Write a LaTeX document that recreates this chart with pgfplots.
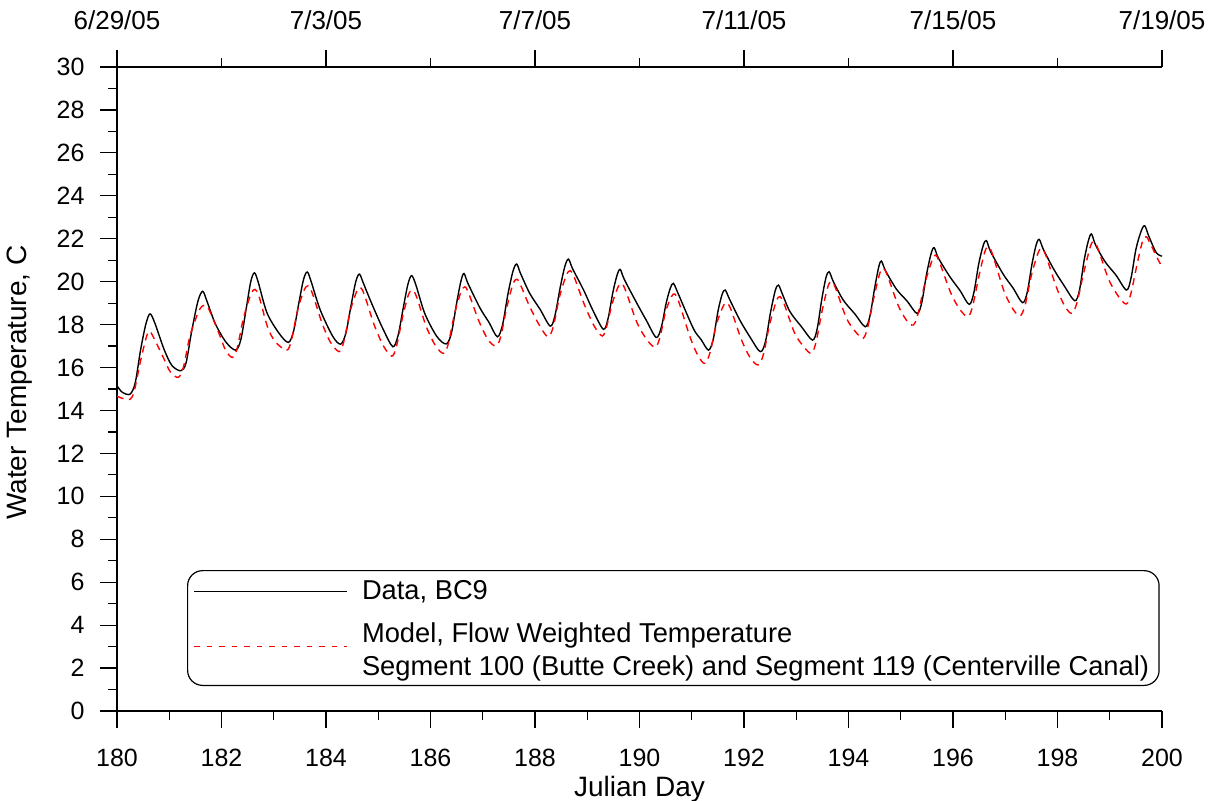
\documentclass[border=0pt]{standalone}
\usepackage{fontspec}
\setmainfont{Liberation Sans}
\usepackage{pgfplots}
\pgfplotsset{compat=1.18}
\begin{document}
\begin{tikzpicture}
\path[use as bounding box] (-58.5pt,-45pt) rectangle (550.5pt,355.5pt);
\begin{axis}[
  name=main, at={(0pt,0pt)}, anchor=south west,
  width=522.5pt, height=322pt, scale only axis,
  xmin=180, xmax=200, ymin=0, ymax=30,
  axis x line*=bottom, axis y line*=left,
  axis line style={-, line width=0.6pt},
  xtick={180,182,...,200}, minor xtick={181,183,...,199},
  ytick={0,2,...,30}, minor ytick={1,3,...,29},
  tick align=outside,
  major tick length=8.25pt, minor tick length=4.25pt,
  every tick/.style={black, line width=0.6pt},
  tick label style={font=\fontsize{12.5}{15}\selectfont},
  xticklabel style={yshift=-7pt},
  yticklabel style={xshift=-4.5pt},
  /pgf/number format/assume math mode=true,
  /pgf/number format/1000 sep={},
  xlabel={Julian Day},
  ylabel={Water Temperature, C},
  label style={font=\fontsize{14}{17}\selectfont},
  xlabel style={at={(axis description cs:0.5,0)}, anchor=center, yshift=-39pt},
  ylabel style={at={(axis description cs:-0.0935,0.51)}, anchor=center, rotate=0},
  legend style={at={(axis description cs:0.067,0.0388)}, anchor=south west,
    draw=black, line width=0.6pt, rounded corners=7.5pt,
    font=\fontsize{13.65}{16.5}\selectfont,
    inner xsep=3pt, inner ysep=3pt, row sep=4.5pt,
    cells={anchor=west},
    /tikz/every odd column/.append style={column sep=5pt}},
  legend image code/.code={\draw[#1] (0pt,0pt) -- (76.5pt,0pt);},
]
\addplot[black, line width=0.7pt, smooth, tension=0.5] coordinates {
(180.00,15.15) (180.10,14.85) (180.25,14.76) (180.35,15.3) (180.45,16.8) (180.55,18.0) (180.63,18.5) (180.72,18.1) (180.90,16.85) (181.05,16.1)
(181.22,15.85) (181.32,16.2) (181.43,17.7) (181.55,19.1) (181.64,19.55) (181.72,19.1) (181.88,18.05) (182.08,17.2)
(182.27,16.81) (182.37,17.3) (182.47,18.7) (182.56,20.0) (182.63,20.41) (182.70,20.0) (182.87,18.55) (183.10,17.6)
(183.28,17.17) (183.38,17.7) (183.48,19.0) (183.57,20.1) (183.64,20.45) (183.71,20.05) (183.89,18.68) (184.13,17.45)
(184.28,17.09) (184.38,17.6) (184.48,18.9) (184.57,20.0) (184.64,20.35) (184.72,19.9) (184.88,18.95) (185.10,17.75)
(185.28,16.97) (185.38,17.5) (185.48,18.8) (185.57,19.9) (185.64,20.28) (185.72,19.85) (185.89,18.52) (186.12,17.45)
(186.30,17.10) (186.40,17.6) (186.50,19.0) (186.58,20.0) (186.64,20.38) (186.72,19.9) (186.95,18.76) (187.12,18.1)
(187.28,17.43) (187.38,18.0) (187.48,19.4) (187.58,20.5) (187.65,20.82) (187.72,20.4) (187.90,19.45) (188.10,18.7)
(188.29,17.93) (188.38,18.4) (188.48,19.7) (188.57,20.7) (188.64,21.05) (188.72,20.6) (188.93,19.61) (189.12,18.6)
(189.31,17.78) (189.40,18.3) (189.49,19.5) (189.57,20.3) (189.63,20.57) (189.71,20.1) (189.95,18.99) (190.13,18.2)
(190.32,17.40) (190.42,17.9) (190.51,19.0) (190.59,19.7) (190.65,19.92) (190.73,19.5) (191.03,17.82) (191.18,17.3)
(191.32,16.81) (191.41,17.3) (191.50,18.6) (191.58,19.4) (191.64,19.61) (191.72,19.2) (191.92,18.21) (192.12,17.4)
(192.31,16.74) (192.41,17.2) (192.51,18.6) (192.60,19.6) (192.66,19.84) (192.73,19.45) (192.88,18.6) (193.10,17.9)
(193.31,17.28) (193.40,17.8) (193.49,19.2) (193.57,20.2) (193.63,20.46) (193.71,20.0) (193.90,19.14) (194.12,18.5)
(194.32,17.90) (194.41,18.4) (194.50,19.7) (194.58,20.7) (194.63,20.96) (194.71,20.5) (194.92,19.64) (195.12,19.1)
(195.31,18.52) (195.40,19.0) (195.49,20.3) (195.58,21.3) (195.64,21.58) (195.72,21.1) (195.94,20.23) (196.13,19.6)
(196.31,18.94) (196.40,19.5) (196.49,20.8) (196.58,21.7) (196.64,21.91) (196.72,21.4) (196.96,20.35) (197.15,19.7)
(197.33,19.02) (197.42,19.5) (197.51,20.8) (197.59,21.7) (197.65,21.97) (197.73,21.5) (197.93,20.57) (198.13,19.8)
(198.33,19.11) (198.42,19.6) (198.51,21.0) (198.59,21.9) (198.65,22.22) (198.73,21.7) (198.91,20.93) (199.12,20.3)
(199.32,19.61) (199.41,20.2) (199.50,21.5) (199.60,22.35) (199.67,22.60) (199.75,22.1) (199.89,21.35) (200.00,21.19)
};
\addlegendentry{Data, BC9}
\addplot[red, line width=0.7pt, dash pattern=on 3.5pt off 2.75pt, smooth, tension=0.5,
  legend image code/.code={\draw[red, line width=0.7pt, dash pattern=on 2.75pt off 3.5pt] (0pt,0.5pt) -- (76.5pt,0.5pt);}] coordinates {
(180.00,14.67) (180.12,14.55) (180.25,14.52) (180.33,14.9) (180.45,16.3) (180.56,17.4) (180.62,17.70) (180.70,17.4) (180.90,16.4) (181.02,15.8)
(181.17,15.54) (181.27,16.0) (181.40,17.5) (181.58,18.7) (181.70,18.91) (181.78,18.6) (181.95,17.6) (182.08,16.8)
(182.21,16.47) (182.30,16.9) (182.42,18.3) (182.56,19.4) (182.64,19.64) (182.72,19.3) (182.88,17.9) (183.03,17.2)
(183.25,16.81) (183.34,17.3) (183.46,18.7) (183.58,19.6) (183.66,19.81) (183.74,19.45) (183.92,18.1) (184.08,17.2)
(184.25,16.74) (184.34,17.2) (184.46,18.6) (184.58,19.5) (184.66,19.73) (184.74,19.35) (184.92,18.0) (185.10,17.0)
(185.26,16.53) (185.35,17.0) (185.47,18.4) (185.58,19.4) (185.66,19.61) (185.74,19.25) (185.92,17.9) (186.10,17.0)
(186.25,16.66) (186.34,17.1) (186.46,18.5) (186.58,19.5) (186.66,19.76) (186.74,19.4) (186.92,18.2) (187.10,17.3)
(187.25,17.00) (187.34,17.4) (187.46,18.8) (187.58,19.9) (187.66,20.11) (187.74,19.75) (187.90,18.83) (188.10,17.9)
(188.25,17.43) (188.35,17.9) (188.47,19.3) (188.60,20.3) (188.68,20.51) (188.76,20.15) (188.95,18.9) (189.14,17.9)
(189.29,17.47) (189.37,17.9) (189.48,19.0) (189.59,19.75) (189.66,19.92) (189.74,19.55) (189.95,18.1) (190.14,17.3)
(190.30,16.94) (190.39,17.4) (190.50,18.6) (190.61,19.3) (190.68,19.42) (190.76,19.0) (190.97,17.4) (191.12,16.55)
(191.25,16.19) (191.35,16.7) (191.47,18.0) (191.60,18.85) (191.67,19.02) (191.75,18.7) (191.95,17.3) (192.12,16.45)
(192.27,16.12) (192.37,16.6) (192.49,18.0) (192.62,19.1) (192.69,19.30) (192.77,18.95) (192.97,17.6) (193.15,16.95)
(193.29,16.66) (193.38,17.2) (193.50,18.7) (193.61,19.8) (193.68,20.00) (193.76,19.65) (193.96,18.3) (194.14,17.65)
(194.28,17.36) (194.37,17.9) (194.49,19.3) (194.60,20.4) (194.67,20.62) (194.75,20.25) (194.95,18.9) (195.11,18.2)
(195.24,17.98) (195.33,18.5) (195.46,19.9) (195.60,21.0) (195.67,21.24) (195.75,20.85) (195.97,19.4) (196.15,18.65)
(196.29,18.37) (196.38,18.9) (196.50,20.3) (196.61,21.4) (196.68,21.63) (196.76,21.25) (196.97,19.6) (197.14,18.75)
(197.28,18.40) (197.38,18.9) (197.50,20.3) (197.63,21.35) (197.70,21.55) (197.78,21.2) (197.97,19.8) (198.13,18.9)
(198.27,18.52) (198.37,19.0) (198.50,20.4) (198.63,21.65) (198.70,21.86) (198.78,21.5) (198.98,20.1) (199.17,19.3)
(199.32,18.96) (199.41,19.5) (199.53,20.9) (199.63,21.9) (199.70,22.09) (199.78,21.75) (199.92,21.05) (200.00,20.69)
};
\addlegendentry{\begin{tabular}{@{}l@{}}Model, Flow Weighted Temperature\\Segment 100 (Butte Creek) and Segment 119 (Centerville Canal)\\[12.5pt]\end{tabular}}
\end{axis}
\begin{axis}[
  at={(0pt,0pt)}, anchor=south west,
  width=522.5pt, height=322pt, scale only axis,
  xmin=180, xmax=200, ymin=0, ymax=30,
  axis x line*=top, axis y line=none,
  axis line style={-, line width=0.6pt},
  xtick={180,184,...,200}, minor xtick={182,186,...,198},
  xticklabels={6/29/05,7/3/05,7/7/05,7/11/05,7/15/05,7/19/05},
  tick align=outside,
  major tick length=8.5pt, minor tick length=4.5pt,
  every tick/.style={black, line width=0.6pt},
  tick label style={font=\fontsize{13}{15}\selectfont},
  xticklabel style={yshift=6.5pt},
]
\end{axis}
\end{tikzpicture}
\end{document}
